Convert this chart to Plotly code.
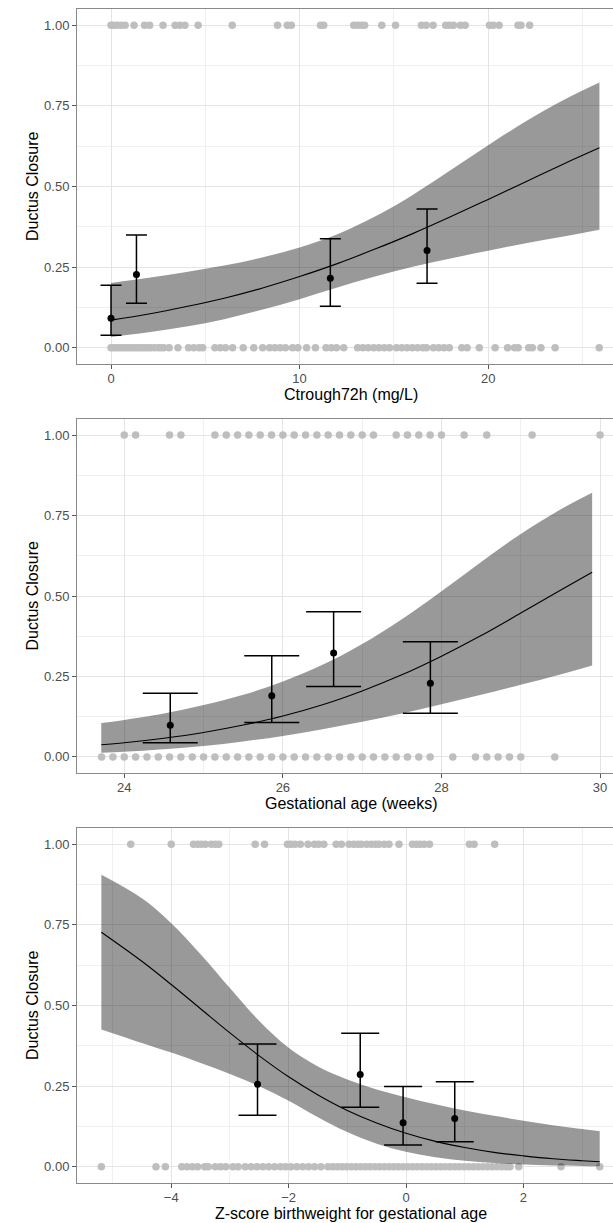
import plotly.graph_objects as go

# ---------------- Panel 1: Ctrough72h ----------------
c_closed0 = [0.0, 0.15, 0.3, 0.45, 0.6, 0.75, 0.9, 1.05, 1.2, 1.35, 1.5, 1.65, 1.8, 1.95, 2.1, 2.3, 2.5, 2.65, 2.8,
             3.08, 3.55, 4.11, 4.39, 4.67, 4.86, 5.51, 5.79, 6.07, 6.45, 7.01, 7.57, 8.04, 8.41, 8.69, 8.97, 9.25,
             9.63, 9.91, 10.37, 10.84, 11.40, 11.68, 11.96, 12.34, 13.08, 13.36, 13.64, 13.93, 14.21, 14.49, 14.77,
             15.14, 15.42, 15.70, 15.98, 16.26, 16.54, 16.73, 17.10, 17.38, 17.66, 17.94, 18.60, 18.88, 19.53,
             20.37, 21.03, 21.40, 21.59, 22.15, 22.34, 22.80, 23.55, 25.89]
c_closed1 = [0.0, 0.13, 0.33, 0.54, 0.75, 1.22, 1.78, 2.05, 2.76, 3.40, 3.65, 3.92, 4.62, 6.43, 8.83, 9.35, 9.56,
             11.11, 11.28, 12.87, 13.08, 13.29, 13.45, 14.36, 15.09, 16.46, 16.71, 17.08, 17.75, 17.95, 18.16,
             18.53, 18.78, 20.07, 20.27, 20.58, 21.58, 21.74, 22.20]
c_fit_x = [0, 2, 4, 6, 8, 10, 12, 14, 16, 18, 20, 22, 24, 25.9]
c_fit = [0.086, 0.105, 0.128, 0.154, 0.185, 0.221, 0.261, 0.306, 0.354, 0.406, 0.460, 0.515, 0.570, 0.620]
c_lo = [0.034, 0.048, 0.066, 0.089, 0.118, 0.151, 0.187, 0.221, 0.251, 0.277, 0.301, 0.324, 0.345, 0.366]
c_hi = [0.201, 0.217, 0.235, 0.255, 0.280, 0.311, 0.352, 0.407, 0.474, 0.550, 0.628, 0.702, 0.768, 0.822]
c_grp_x = [0.0, 1.35, 11.63, 16.76]
c_grp_y = [0.092, 0.227, 0.216, 0.302]
c_grp_lo = [0.039, 0.138, 0.129, 0.200]
c_grp_hi = [0.194, 0.350, 0.338, 0.430]

# ---------------- Panel 2: Gestational age ----------------
g_closed0 = [23.714, 23.857, 24.0, 24.143, 24.286, 24.429, 24.571, 24.714, 24.857, 25.0, 25.143, 25.286, 25.429,
             25.571, 25.714, 25.857, 26.0, 26.143, 26.286, 26.429, 26.571, 26.714, 26.857, 27.0, 27.143, 27.286,
             27.429, 27.571, 27.714, 27.857, 28.143, 28.429, 28.571, 28.714, 28.857, 29.0, 29.429]
g_closed1 = [24.0, 24.143, 24.571, 24.714, 25.143, 25.286, 25.429, 25.571, 25.714, 25.857, 26.0, 26.143, 26.286,
             26.429, 26.571, 26.714, 26.857, 27.0, 27.143, 27.429, 27.571, 27.714, 27.857, 28.0, 28.286, 28.571,
             29.143, 30.0]
g_fit_x = [23.71, 24, 24.5, 25, 25.5, 26, 26.5, 27, 27.5, 28, 28.5, 29, 29.5, 29.9]
g_fit = [0.038, 0.044, 0.058, 0.076, 0.099, 0.127, 0.162, 0.205, 0.255, 0.313, 0.377, 0.447, 0.518, 0.574]
g_lo = [0.013, 0.016, 0.024, 0.034, 0.048, 0.065, 0.086, 0.109, 0.135, 0.164, 0.193, 0.224, 0.256, 0.284]
g_hi = [0.105, 0.115, 0.135, 0.161, 0.193, 0.234, 0.286, 0.351, 0.428, 0.515, 0.606, 0.693, 0.769, 0.821]
g_grp_x = [24.58, 25.86, 26.64, 27.86]
g_grp_y = [0.098, 0.190, 0.323, 0.229]
g_grp_lo = [0.044, 0.107, 0.219, 0.136]
g_grp_hi = [0.198, 0.314, 0.451, 0.358]

# ---------------- Panel 3: Z-score birthweight ----------------
z_closed0 = [-5.19, -4.26, -4.10, -3.82, -3.73, -3.64, -3.55, -3.43, -3.37, -3.25, -3.16, -3.07, -2.95, -2.86,
             -2.74, -2.64, -2.54, -2.44, -2.34, -2.24, -2.14, -2.05, -1.96, -1.86, -1.76, -1.66, -1.56, -1.45,
             -1.33, -1.25, -1.17, -1.09, -1.01, -0.93, -0.85, -0.77, -0.69, -0.61, -0.53, -0.45, -0.37, -0.29,
             -0.21, -0.13, -0.05, 0.03, 0.11, 0.19, 0.27, 0.35, 0.43, 0.51, 0.59, 0.67, 0.75, 0.83, 0.91, 0.99,
             1.07, 1.15, 1.23, 1.31, 1.39, 1.47, 1.55, 1.63, 1.71, 1.77, 1.92, 2.64, 3.30]
z_closed1 = [-4.69, -4.00, -3.62, -3.55, -3.49, -3.42, -3.32, -3.25, -3.19, -2.57, -2.41, -2.02, -1.96, -1.89,
             -1.80, -1.67, -1.56, -1.49, -1.40, -1.19, -1.10, -0.97, -0.89, -0.82, -0.76, -0.67, -0.59, -0.52,
             -0.46, -0.37, -0.29, -0.12, 0.11, 0.18, 0.24, 0.31, 0.40, 1.08, 1.16, 1.51]
z_fit_x = [-5.19, -4.5, -4, -3.5, -3, -2.5, -2, -1.5, -1, -0.5, 0, 0.5, 1, 1.5, 2, 2.5, 3, 3.3]
z_fit = [0.727, 0.637, 0.565, 0.490, 0.415, 0.344, 0.279, 0.223, 0.175, 0.136, 0.104, 0.079, 0.060, 0.045,
         0.034, 0.025, 0.019, 0.016]
z_lo = [0.426, 0.384, 0.354, 0.322, 0.288, 0.250, 0.205, 0.154, 0.108, 0.072, 0.047, 0.030, 0.019, 0.012,
        0.007, 0.004, 0.003, 0.002]
z_hi = [0.905, 0.832, 0.755, 0.659, 0.554, 0.452, 0.369, 0.311, 0.271, 0.240, 0.216, 0.194, 0.175, 0.158,
        0.143, 0.129, 0.117, 0.110]
z_grp_x = [-2.53, -0.78, -0.05, 0.83]
z_grp_y = [0.256, 0.286, 0.137, 0.150]
z_grp_lo = [0.160, 0.185, 0.068, 0.078]
z_grp_hi = [0.381, 0.414, 0.249, 0.264]

x_titles = ["Ctrough72h (mg/L)", "Gestational age (weeks)", "Z-score birthweight for gestational age"]
y_title = "Ductus Closure"
y_ticks = [0, 0.25, 0.5, 0.75, 1.0]
y_ticklabels = ["0.00", "0.25", "0.50", "0.75", "1.00"]

W, H = 613, 1223
LEFT = 77
panels = [
    dict(d0=c_closed0, d1=c_closed1, fx=c_fit_x, fit=c_fit, lo=c_lo, hi=c_hi,
         gx=c_grp_x, gy=c_grp_y, glo=c_grp_lo, ghi=c_grp_hi,
         xr=[-1.803, 26.62], dtick=10, tick0=0, mdt=5, top=9, bot=364, cap=10.5),
    dict(d0=g_closed0, d1=g_closed1, fx=g_fit_x, fit=g_fit, lo=g_lo, hi=g_hi,
         gx=g_grp_x, gy=g_grp_y, glo=g_grp_lo, ghi=g_grp_hi,
         xr=[23.404, 30.163], dtick=2, tick0=0, mdt=1, top=419, bot=773, cap=27.5),
    dict(d0=z_closed0, d1=z_closed1, fx=z_fit_x, fit=z_fit, lo=z_lo, hi=z_hi,
         gx=z_grp_x, gy=z_grp_y, glo=z_grp_lo, ghi=z_grp_hi,
         xr=[-5.605, 3.526], dtick=2, tick0=0, mdt=1, top=828, bot=1183, cap=19),
]

FONT = "Liberation Sans, Arial, sans-serif"
fig = go.Figure()
layout = dict(width=W, height=H, margin=dict(l=0, r=0, t=0, b=0),
              paper_bgcolor="white", plot_bgcolor="white", showlegend=False,
              font=dict(family=FONT, color="#4d4d4d", size=13))
annotations = []
dot_color = "#bebebe"

for i, p in enumerate(panels):
    n = i + 1
    xa = "x" if n == 1 else f"x{n}"
    ya = "y" if n == 1 else f"y{n}"
    # raw observations
    fig.add_trace(go.Scatter(x=p["d0"], y=[0] * len(p["d0"]), mode="markers", xaxis=xa, yaxis=ya,
                             marker=dict(size=7.5, color=dot_color, line=dict(width=0)), hoverinfo="skip"))
    fig.add_trace(go.Scatter(x=p["d1"], y=[1] * len(p["d1"]), mode="markers", xaxis=xa, yaxis=ya,
                             marker=dict(size=7.5, color=dot_color, line=dict(width=0)), hoverinfo="skip"))
    # confidence band (lower edge, then upper edge filled to it)
    fig.add_trace(go.Scatter(x=p["fx"], y=p["lo"], mode="lines", xaxis=xa, yaxis=ya,
                             line=dict(width=0, shape="spline", color="rgba(0,0,0,0)"), hoverinfo="skip"))
    fig.add_trace(go.Scatter(x=p["fx"], y=p["hi"], mode="lines", xaxis=xa, yaxis=ya,
                             fill="tonexty", fillcolor="rgba(0,0,0,0.40)",
                             line=dict(width=0, shape="spline", color="rgba(0,0,0,0)"), hoverinfo="skip"))
    # fitted line
    fig.add_trace(go.Scatter(x=p["fx"], y=p["fit"], mode="lines", xaxis=xa, yaxis=ya,
                             line=dict(color="black", width=1.1, shape="spline")))
    # grouped proportions with CI
    fig.add_trace(go.Scatter(x=p["gx"], y=p["gy"], mode="markers", xaxis=xa, yaxis=ya,
                             marker=dict(size=7, color="black"),
                             error_y=dict(type="data", symmetric=False,
                                          array=[h - m for h, m in zip(p["ghi"], p["gy"])],
                                          arrayminus=[m - l for m, l in zip(p["gy"], p["glo"])],
                                          color="black", thickness=1.5, width=p["cap"])))
    ydom = [1 - p["bot"] / H, 1 - p["top"] / H]
    grid_major = "#e4e4e4"
    grid_minor = "#f0f0f0"
    layout["xaxis" if n == 1 else f"xaxis{n}"] = dict(
        domain=[LEFT / W, 1], range=p["xr"], anchor=ya, dtick=p["dtick"], tick0=p["tick0"],
        showgrid=True, gridcolor=grid_major, gridwidth=1, zeroline=False,
        showline=True, linecolor="#8a8a8a", linewidth=1, mirror=True,
        ticks="outside", ticklen=4, tickcolor="#555555", tickwidth=1,
        ticklabelstandoff=-2,
        tickfont=dict(size=13, color="#4d4d4d", family=FONT),
        minor=dict(dtick=p["mdt"], tick0=0, showgrid=True, gridcolor=grid_minor, gridwidth=1, ticks=""))
    layout["yaxis" if n == 1 else f"yaxis{n}"] = dict(
        domain=ydom, range=[-0.05, 1.05], anchor=xa, tickvals=y_ticks, ticktext=y_ticklabels,
        showgrid=True, gridcolor=grid_major, gridwidth=1, zeroline=False,
        showline=True, linecolor="#8a8a8a", linewidth=1, mirror=False,
        ticks="outside", ticklen=4, tickcolor="#555555", tickwidth=1,
        tickfont=dict(size=13, color="#4d4d4d", family=FONT),
        minor=dict(dtick=0.125, tick0=0, showgrid=True, gridcolor=grid_minor, gridwidth=1, ticks=""))
    # axis titles
    annotations.append(dict(text=x_titles[i], xref="paper", yref="paper", x=351 / W,
                            y=1 - (p["bot"] + 30) / H, xanchor="center", yanchor="middle", showarrow=False,
                            font=dict(size=16, color="black", family=FONT)))
    annotations.append(dict(text=y_title, xref="paper", yref="paper", x=32.5 / W,
                            y=1 - ((p["top"] + p["bot"]) / 2) / H, xanchor="center", yanchor="middle",
                            textangle=-90, showarrow=False, font=dict(size=16, color="black", family=FONT)))

layout["annotations"] = annotations
fig.update_layout(**layout)
fig.write_html("out.html")
